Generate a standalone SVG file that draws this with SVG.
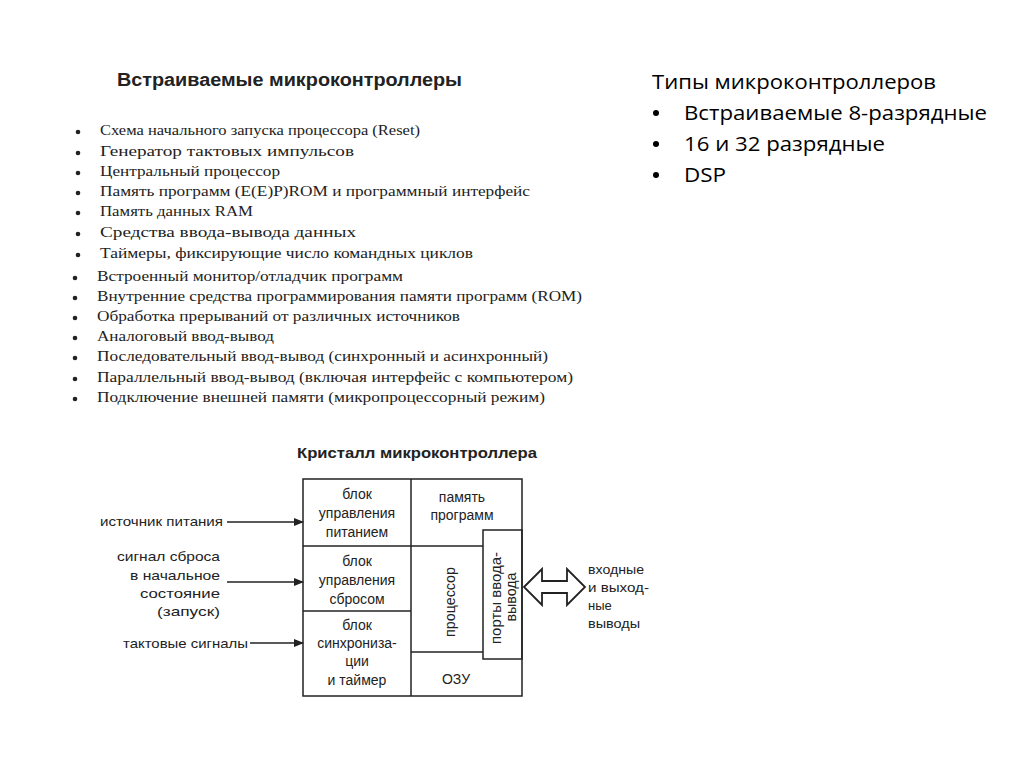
<svg xmlns="http://www.w3.org/2000/svg" width="1024" height="768" viewBox="0 0 1024 768">
<style>
.ser{font-family:"Liberation Serif","DejaVu Serif",serif;font-size:14px;fill:#222}
.bul{fill:#222}
.h{font-family:"Liberation Sans",Arial,sans-serif;font-weight:bold;fill:#222}
.s{font-family:"Liberation Sans",Arial,sans-serif;font-size:13px;fill:#222}
.b{font-family:"Liberation Sans",Arial,sans-serif;font-size:14px;fill:#222}
.c{text-anchor:middle}
.r{text-anchor:end}
.cal{font-family:"Open Sans","Noto Sans",sans-serif;font-size:20px;fill:#000}
.box{fill:none;stroke:#222;stroke-width:1.5}
.ln{stroke:#222;stroke-width:1.5;fill:none}
</style>
<defs>
<marker id="ah" markerWidth="10" markerHeight="8" refX="9" refY="4" orient="auto" markerUnits="userSpaceOnUse">
<path d="M0,0 L10,4 L0,8 Z" fill="#222"/>
</marker>
</defs>
<rect width="1024" height="768" fill="#fff"/>

<g id="title-embedded">
<text class="h" x="117" y="86" font-size="18" textLength="345" lengthAdjust="spacingAndGlyphs">Встраиваемые  микроконтроллеры</text>
</g>

<g id="list1">
<circle class="bul" cx="78" cy="132" r="2.3"/><text class="ser" x="100" y="135" textLength="320" lengthAdjust="spacingAndGlyphs">Схема начального запуска процессора (Reset)</text>
<circle class="bul" cx="78" cy="153" r="2.3"/><text class="ser" x="100" y="156" textLength="254" lengthAdjust="spacingAndGlyphs">Генератор тактовых импульсов</text>
<circle class="bul" cx="78" cy="173" r="2.3"/><text class="ser" x="100" y="176" textLength="180" lengthAdjust="spacingAndGlyphs">Центральный процессор</text>
<circle class="bul" cx="78" cy="193" r="2.3"/><text class="ser" x="100" y="196" textLength="430" lengthAdjust="spacingAndGlyphs">Память программ (E(E)P)ROM и программный интерфейс</text>
<circle class="bul" cx="78" cy="213" r="2.3"/><text class="ser" x="100" y="216" textLength="153" lengthAdjust="spacingAndGlyphs">Память данных RAM</text>
<circle class="bul" cx="78" cy="234" r="2.3"/><text class="ser" x="100" y="237" textLength="256" lengthAdjust="spacingAndGlyphs">Средства ввода-вывода данных</text>
<circle class="bul" cx="78" cy="255" r="2.3"/><text class="ser" x="100" y="258" textLength="373" lengthAdjust="spacingAndGlyphs">Таймеры, фиксирующие число командных циклов</text>
</g>

<g id="list2">
<circle class="bul" cx="75" cy="278" r="2.3"/><text class="ser" x="97" y="281" textLength="306" lengthAdjust="spacingAndGlyphs">Встроенный монитор/отладчик программ</text>
<circle class="bul" cx="75" cy="298" r="2.3"/><text class="ser" x="97" y="301" textLength="485" lengthAdjust="spacingAndGlyphs">Внутренние средства программирования памяти программ (ROM)</text>
<circle class="bul" cx="75" cy="318" r="2.3"/><text class="ser" x="97" y="321" textLength="363" lengthAdjust="spacingAndGlyphs">Обработка прерываний от различных источников</text>
<circle class="bul" cx="75" cy="338" r="2.3"/><text class="ser" x="97" y="341" textLength="177" lengthAdjust="spacingAndGlyphs">Аналоговый ввод-вывод</text>
<circle class="bul" cx="75" cy="358" r="2.3"/><text class="ser" x="97" y="361" textLength="451" lengthAdjust="spacingAndGlyphs">Последовательный ввод-вывод (синхронный и асинхронный)</text>
<circle class="bul" cx="75" cy="379" r="2.3"/><text class="ser" x="97" y="382" textLength="476" lengthAdjust="spacingAndGlyphs">Параллельный ввод-вывод (включая интерфейс с компьютером)</text>
<circle class="bul" cx="75" cy="399" r="2.3"/><text class="ser" x="97" y="402" textLength="448" lengthAdjust="spacingAndGlyphs">Подключение внешней памяти (микропроцессорный режим)</text>
</g>

<g id="types">
<text class="cal" x="652" y="89" textLength="284" lengthAdjust="spacingAndGlyphs">Типы микроконтроллеров</text>
<circle cx="656" cy="113" r="3" fill="#000"/><text class="cal" x="684" y="120" textLength="303" lengthAdjust="spacingAndGlyphs">Встраиваемые 8-разрядные</text>
<circle cx="656" cy="144" r="3" fill="#000"/><text class="cal" x="684" y="151" textLength="201" lengthAdjust="spacingAndGlyphs">16 и 32 разрядные</text>
<circle cx="656" cy="175" r="3" fill="#000"/><text class="cal" x="684" y="182" textLength="42" lengthAdjust="spacingAndGlyphs">DSP</text>
</g>

<g id="title-crystal">
<text class="h" x="297" y="458" font-size="14" textLength="240" lengthAdjust="spacingAndGlyphs">Кристалл микроконтроллера</text>
</g>

<g id="chip">
<rect class="box" x="303" y="479" width="219" height="217"/>
<line class="ln" x1="411" y1="479" x2="411" y2="696"/>
</g>

<g id="power-block">
<line class="ln" x1="303" y1="546" x2="411" y2="546"/>
<text class="b c" x="357" y="499">блок</text>
<text class="b c" x="357" y="518">управления</text>
<text class="b c" x="357" y="537">питанием</text>
</g>

<g id="reset-block">
<line class="ln" x1="303" y1="611" x2="411" y2="611"/>
<text class="b c" x="357" y="566">блок</text>
<text class="b c" x="357" y="585">управления</text>
<text class="b c" x="357" y="604">сбросом</text>
</g>

<g id="sync-block">
<text class="b c" x="357" y="630">блок</text>
<text class="b c" x="357" y="648">синхрониза-</text>
<text class="b c" x="357" y="666">ции</text>
<text class="b c" x="357" y="685">и таймер</text>
</g>

<g id="program-memory">
<line class="ln" x1="411" y1="546" x2="483" y2="546"/>
<text class="b c" x="462" y="502">память</text>
<text class="b c" x="462" y="520">программ</text>
</g>

<g id="processor">
<line class="ln" x1="411" y1="652" x2="483" y2="652"/>
<text class="b c" transform="translate(455,602) rotate(-90)" textLength="70" lengthAdjust="spacingAndGlyphs">процессор</text>
</g>

<g id="io-ports">
<rect class="box" x="483" y="530" width="39" height="129" fill="#fff"/>
<text class="b c" transform="translate(501,598) rotate(-90)" textLength="92" lengthAdjust="spacingAndGlyphs">порты ввода-</text>
<text class="b c" transform="translate(516,597) rotate(-90)" textLength="49" lengthAdjust="spacingAndGlyphs">вывода</text>
</g>

<g id="ram">
<text class="b c" x="456" y="684">ОЗУ</text>
</g>

<g id="labels-left">
<text class="s" x="100" y="526" textLength="123" lengthAdjust="spacingAndGlyphs">источник питания</text>
<text class="s" x="117" y="561" textLength="103" lengthAdjust="spacingAndGlyphs">сигнал сброса</text>
<text class="s" x="130" y="580" textLength="90" lengthAdjust="spacingAndGlyphs">в начальное</text>
<text class="s" x="140" y="598" textLength="80" lengthAdjust="spacingAndGlyphs">состояние</text>
<text class="s" x="157" y="616" textLength="63" lengthAdjust="spacingAndGlyphs">(запуск)</text>
<text class="s" x="123" y="648" textLength="125" lengthAdjust="spacingAndGlyphs">тактовые сигналы</text>
</g>

<g id="labels-right">
<text class="s" x="588" y="574" textLength="56" lengthAdjust="spacingAndGlyphs">входные</text>
<text class="s" x="588" y="592" textLength="61" lengthAdjust="spacingAndGlyphs">и выход-</text>
<text class="s" x="588" y="610">ные</text>
<text class="s" x="588" y="628" textLength="52" lengthAdjust="spacingAndGlyphs">выводы</text>
</g>

<g id="connectors">
<line class="ln" x1="227" y1="522" x2="303" y2="522" marker-end="url(#ah)"/>
<line class="ln" x1="227" y1="582" x2="303" y2="582" marker-end="url(#ah)"/>
<line class="ln" x1="250" y1="643" x2="303" y2="643" marker-end="url(#ah)"/>
<path d="M524,587 L542,569 L542,581 L567,581 L567,569 L585,587 L567,605 L567,593 L542,593 L542,605 Z" fill="#fff" stroke="#222" stroke-width="1.8" stroke-linejoin="miter"/>
</g>
</svg>
